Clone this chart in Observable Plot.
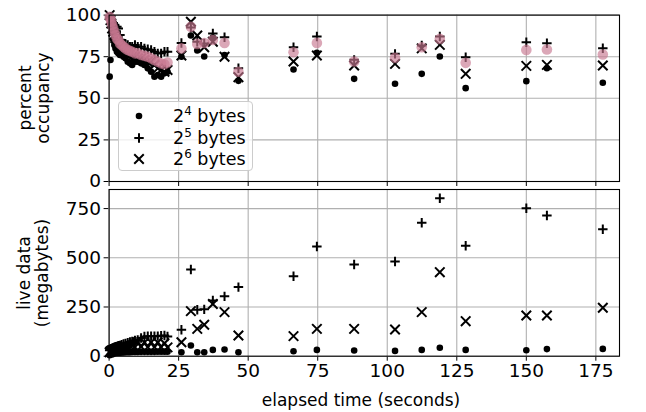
<!DOCTYPE html>
<html><head><meta charset="utf-8">
<script src="https://cdn.jsdelivr.net/npm/d3@7"></script>
<script src="https://cdn.jsdelivr.net/npm/@observablehq/plot@0.6"></script>
<style>
body{margin:0;background:#fff;}
#wrap{position:relative;width:646px;height:412px;font-family:"DejaVu Sans",sans-serif;color:#000;overflow:hidden;}
#wrap > svg{position:absolute;left:0;}
.ylab{position:absolute;font-size:17px;line-height:18px;text-align:center;white-space:nowrap;transform:translate(-50%,-50%) rotate(-90deg);}
.xlab{position:absolute;font-size:17px;white-space:nowrap;transform:translate(-50%,-50%);}
#legend{position:absolute;left:118px;top:101px;width:135px;height:70px;border:1px solid #cccccc;border-radius:4px;background:rgba(255,255,255,0.8);box-sizing:border-box;}
.lrow{position:absolute;left:0;height:20px;width:134px;}
.lrow svg{position:absolute;left:10px;top:0;}
.lrow span{position:absolute;left:54px;top:0;font-size:17.5px;line-height:20px;}
.lrow sup{font-size:12px;vertical-align:7px;line-height:0;}
</style></head><body><div id="wrap"></div>
<script>
// elapsed time (seconds)
const times = [0.2, 0.5, 0.8, 1.1, 1.5, 1.9, 2.3, 2.8, 3.3, 3.9, 4.5, 5.2, 5.9, 6.7, 7.5, 8.3, 9.3, 10.3, 11.5, 12.7, 13.9, 15.1, 16.3, 17.5, 18.7, 19.9, 21.0,
  26.0, 29.4, 31.7, 34.2, 37.3, 41.5, 46.5, 66.3, 74.7, 88.1, 102.8, 112.4, 118.9, 128.2, 150.0, 157.4, 177.5];
// percent occupancy
const occ16 = [63, 73, 95, 90, 85, 82, 80, 78, 77, 76, 76, 75, 74, 72, 71, 70, 72, 72, 71, 70, 68, 66, 63, 64, 63, 65, 66,
  75, 87.7, 78.7, 75.1, 86.5, 76, 60.5, 67.3, 77.3, 61.7, 58.7, 64.7, 75.1, 56.1, 60.3, 68.1, 59.3];
const occ32 = [98, 99, 97, 96, 95, 94, 93, 93, 92, 88, 85, 83, 82, 82, 81, 81, 82, 81, 81, 80, 79.5, 79, 78, 77, 77, 78, 78,
  83.2, 92.5, 84, 83, 89, 86.7, 68, 80.7, 87.1, 73.1, 76.7, 81.7, 87.1, 74.7, 83.7, 83.1, 80.1];
const occ64 = [100, 97, 95, 92, 90, 88, 86, 84, 82, 80, 79, 78, 77, 76, 76, 75, 75, 74, 74, 73, 72, 72, 70, 68, 67, 66, 67,
  75.7, 96, 87.7, 80.7, 84, 75, 62.7, 72.1, 75.7, 69.7, 70.7, 80, 82.1, 64.7, 69.5, 70.1, 69.7];
const occAll = [99, 98, 96, 94, 92, 90, 88, 86, 85, 83, 82, 81, 80, 79, 78.5, 78, 77, 77, 76, 75.5, 75, 74, 73, 72, 71, 70.5, 71.5,
  80, 93, 82.7, 83.2, 85, 83.3, 66, 77.7, 83.3, 72.1, 74.3, 80.7, 85.7, 71.3, 79.1, 79.3, 76.3];
// live data (megabytes)
const live16 = [5, 8, 10, 12, 14, 15, 16, 17, 18, 18, 19, 19, 20, 20, 20, 21, 21, 21, 22, 22, 22, 22, 22, 23, 23, 23, 23,
  20, 54, 20, 20, 32, 34, 20, 25, 32, 29, 27, 32, 43, 32, 30, 36, 37];
const live32 = [30, 35, 38, 40, 43, 45, 48, 50, 53, 55, 58, 62, 65, 68, 72, 75, 80, 83, 92, 100, 101, 102, 102, 102, 104, 105, 100,
  134, 440, 236, 238, 283, 304, 351, 406, 557, 466, 481, 678, 803, 561, 752, 715, 645];
const live64 = [20, 25, 28, 30, 32, 34, 36, 38, 40, 42, 44, 46, 48, 50, 52, 55, 46, 71, 48, 70, 46, 71, 46, 70, 46, 66, 45,
  71, 229, 139, 160, 265, 224, 105, 102, 139, 139, 136, 224, 427, 178, 207, 207, 246];
// ticks and labels
const xTicks = [0, 25, 50, 75, 100, 125, 150, 175];
const occTicks = [0, 25, 50, 75, 100];
const liveTicks = [0, 250, 500, 750];
const legendExps = ["4", "5", "6"];
const xLabel = "elapsed time (seconds)";
const occLabel = ["percent", "occupancy"];
const liveLabel = ["live data", "(megabytes)"];

const rows = times.map((t, i) => ({t, o16: occ16[i], o32: occ32[i], o64: occ64[i], oAll: occAll[i],
  l16: live16[i], l32: live32[i], l64: live64[i]}));

const W = 646, ML = 108.6, MR = 27;
const xDomain = [0, 183.5];
const style = {fontFamily: "DejaVu Sans, sans-serif", fontSize: "18.5px", color: "black", background: "transparent", overflow: "visible"};
const gridStyle = {stroke: "#b0b0b0", strokeWidth: 1.1};
const sym = {
  dot: {r: 3.3, fill: "black", stroke: "none"},
  plus: {r: 3.15, symbol: "plus", stroke: "black", fill: "none", strokeWidth: 2},
  times: {r: 4.4, symbol: "times", stroke: "black", fill: "none", strokeWidth: 2}
};
const pink = {r: 5.3, fill: "#c87890", fillOpacity: 0.65, stroke: "none"};

const topPlot = Plot.plot({
  width: W, height: 185, marginLeft: ML, marginRight: MR, marginTop: 14.6, marginBottom: 4,
  style,
  x: {domain: xDomain, ticks: xTicks, tickFormat: () => "", tickSize: 5, label: null},
  y: {domain: [0, 100], ticks: occTicks, tickSize: 5, tickPadding: 3, label: null},
  marks: [
    Plot.ruleX(xTicks, {...gridStyle}),
    Plot.ruleY(occTicks, {...gridStyle}),
    Plot.dot(rows, {x: "t", y: "o16", ...sym.dot}),
    Plot.dot(rows, {x: "t", y: "o32", ...sym.plus}),
    Plot.dot(rows, {x: "t", y: "o64", ...sym.times}),
    Plot.dot(rows, {x: "t", y: "oAll", ...pink}),
    Plot.frame({stroke: "black", strokeWidth: 1.1})
  ]
});

const botPlot = Plot.plot({
  width: W, height: 227, marginLeft: ML, marginRight: MR, marginTop: 4, marginBottom: 56.3,
  style,
  x: {domain: xDomain, ticks: xTicks, tickSize: 5, tickPadding: 3, label: null},
  y: {domain: [0, 847], ticks: liveTicks, tickSize: 5, tickPadding: 3, label: null},
  marks: [
    Plot.ruleX(xTicks, {...gridStyle}),
    Plot.ruleY(liveTicks, {...gridStyle}),
    Plot.dot(rows, {x: "t", y: "l16", ...sym.dot}),
    Plot.dot(rows, {x: "t", y: "l32", ...sym.plus}),
    Plot.dot(rows, {x: "t", y: "l64", ...sym.times}),
    Plot.frame({stroke: "black", strokeWidth: 1.1})
  ]
});

const wrap = document.getElementById("wrap");
topPlot.style.top = "0px";
botPlot.style.top = "185px";
wrap.appendChild(topPlot);
wrap.appendChild(botPlot);

function addYLabel(lines, cx, cy) {
  const d = document.createElement("div");
  d.className = "ylab";
  d.style.left = cx + "px"; d.style.top = cy + "px";
  d.innerHTML = lines.join("<br>");
  wrap.appendChild(d);
}
addYLabel(occLabel, 34, 98);
addYLabel(liveLabel, 33, 273);

const xl = document.createElement("div");
xl.className = "xlab"; xl.textContent = xLabel;
xl.style.left = "361px"; xl.style.top = "400px";
wrap.appendChild(xl);

// legend
const leg = document.createElement("div");
leg.id = "legend";
wrap.appendChild(leg);
const legSyms = [
  {type: d3.symbolCircle, r: sym.dot.r, fill: "black", stroke: "none", sw: 0},
  {type: d3.symbolPlus, r: sym.plus.r, fill: "none", stroke: "black", sw: 2},
  {type: d3.symbolTimes, r: sym.times.r, fill: "none", stroke: "black", sw: 2}
];
const rowTops = [4, 25.7, 47.3];
legendExps.forEach((e, i) => {
  const row = document.createElement("div");
  row.className = "lrow"; row.style.top = rowTops[i] + "px";
  const s = legSyms[i];
  const path = d3.symbol(s.type, s.r * s.r * Math.PI)();
  row.innerHTML = `<svg width="20" height="20" viewBox="-10 -10 20 20"><path d="${path}" fill="${s.fill}" stroke="${s.stroke}" stroke-width="${s.sw}"/></svg><span>2<sup>${e}</sup> bytes</span>`;
  leg.appendChild(row);
});
</script>
</body></html>
